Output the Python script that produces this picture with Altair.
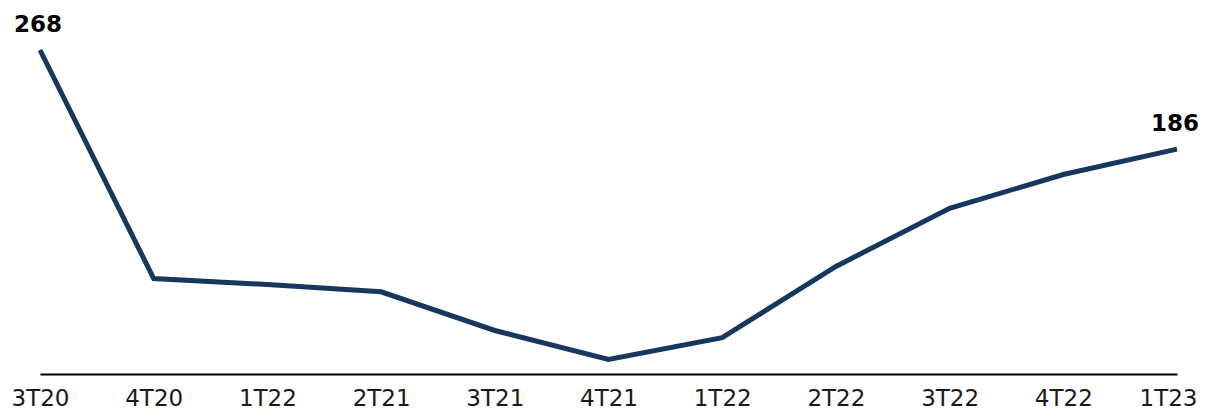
import altair as alt
import pandas as pd
import json

quarters = ["3T20", "4T20", "1T22", "2T21", "3T21", "4T21", "1T22", "2T22", "3T22", "4T22", "1T23"]
values = [268, 79, 74, 68, 36, 12, 30, 89, 137, 165, 186]

df = pd.DataFrame({"idx": list(range(len(quarters))), "quarter": quarters, "value": values})
df["label"] = [str(v) if i in (0, len(values) - 1) else "" for i, v in enumerate(values)]

label_expr = json.dumps(quarters) + "[datum.value]"
last = len(quarters) - 1

x = alt.X("idx:O", scale=alt.Scale(type="point", padding=0), title=None,
          axis=alt.Axis(labelExpr=label_expr, labelAngle=0, ticks=False, grid=False,
                        domainColor="#000000", domainWidth=2, labelFontSize=23,
                        labelFont="DejaVu Sans", labelColor="#1a1a1a",
                        labelBaseline="alphabetic", labelPadding=31,
                        labelOffset={"condition": {"test": f"datum.value === {last}", "value": -9},
                                     "value": 0}))
y = alt.Y("value:Q", scale=alt.Scale(domain=[0, 268], nice=False, zero=True), axis=None)

line = alt.Chart(df).mark_line(color="#17375e", strokeWidth=5).encode(x=x, y=y)

text = alt.Chart(df[df["label"] != ""]).mark_text(
    dy=-18, dx=-2, baseline="alphabetic", fontSize=23, fontWeight="bold",
    font="DejaVu Sans", color="#000000"
).encode(x=alt.X("idx:O", scale=alt.Scale(type="point", padding=0)), y=y, text="label:N")

chart = (line + text).properties(
    width=1137, height=324,
    autosize=alt.AutoSizeParams(type="none"),
    padding={"left": 32, "top": 42, "right": 21, "bottom": 37},
).configure_view(stroke=None)

chart.save("out.html", embed_options={"renderer": "svg", "actions": False})
